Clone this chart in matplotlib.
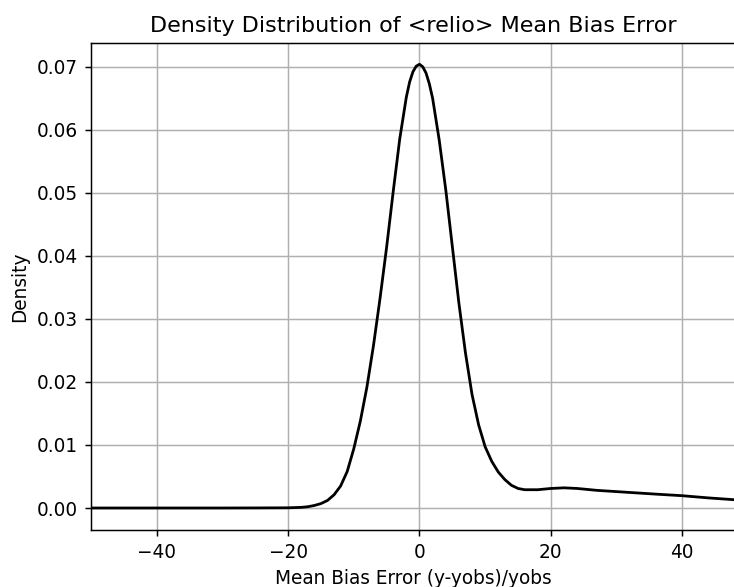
import matplotlib
matplotlib.use("Agg")
import matplotlib.pyplot as plt

# density curve
mbe = [-50, -40, -30, -25, -20, -18, -17, -16, -15, -14, -13, -12, -11, -10,
       -9, -8, -7, -6, -5, -4, -3, -2, -1.5, -1, -0.5, 0, 0.5, 1, 1.5, 2,
       3, 4, 5, 6, 7, 8, 9, 10, 11, 12, 13, 14, 15, 16, 18, 20, 22, 24,
       27, 30, 33, 36, 40, 44, 48.1]
density = [0.0, 0.0, 0.0, 0.00001, 0.00003, 0.0001, 0.0002, 0.0004, 0.0007,
           0.0012, 0.0021, 0.0035, 0.0058, 0.0094, 0.0138, 0.0192, 0.0258,
           0.0333, 0.0414, 0.0502, 0.0586, 0.0652, 0.0676, 0.0692, 0.0701,
           0.0704, 0.0700, 0.0690, 0.0673, 0.0650, 0.0584, 0.0505, 0.0415,
           0.0325, 0.0246, 0.0180, 0.0132, 0.0097, 0.0074, 0.0057, 0.0045,
           0.0036, 0.0031, 0.0029, 0.0029, 0.0031, 0.0032, 0.0031, 0.0028,
           0.0026, 0.0024, 0.0022, 0.00195, 0.0016, 0.0013]

s = 1.333  # the reference looks like default styling saved at ~133 dpi

fig = plt.figure(figsize=(7.34, 5.87), dpi=100)
ax = fig.add_axes([0.124, 0.097, 0.878, 0.830])

ax.plot(mbe, density, color="black", lw=1.5 * s)

ax.set_xlim(-50, 48.1)
ax.set_ylim(-0.0035, 0.0738)
ax.set_xticks([-40, -20, 0, 20, 40])
ax.set_yticks([0.0, 0.01, 0.02, 0.03, 0.04, 0.05, 0.06, 0.07])
ax.grid(True, color="#b0b0b0", lw=0.8 * s)
ax.set_axisbelow(True)
ax.tick_params(labelsize=10 * s, length=3.5 * s, width=0.8 * s, pad=3.5 * s)
for sp in ax.spines.values():
    sp.set_linewidth(0.8 * s)

ax.set_title("Density Distribution of <relio> Mean Bias Error", fontsize=12 * s, pad=6 * s)
ax.set_xlabel("Mean Bias Error (y-yobs)/yobs", fontsize=10 * s, labelpad=4 * s)
ax.set_ylabel("Density", fontsize=10 * s, labelpad=4 * s)

fig.savefig("out.png", dpi=100)
